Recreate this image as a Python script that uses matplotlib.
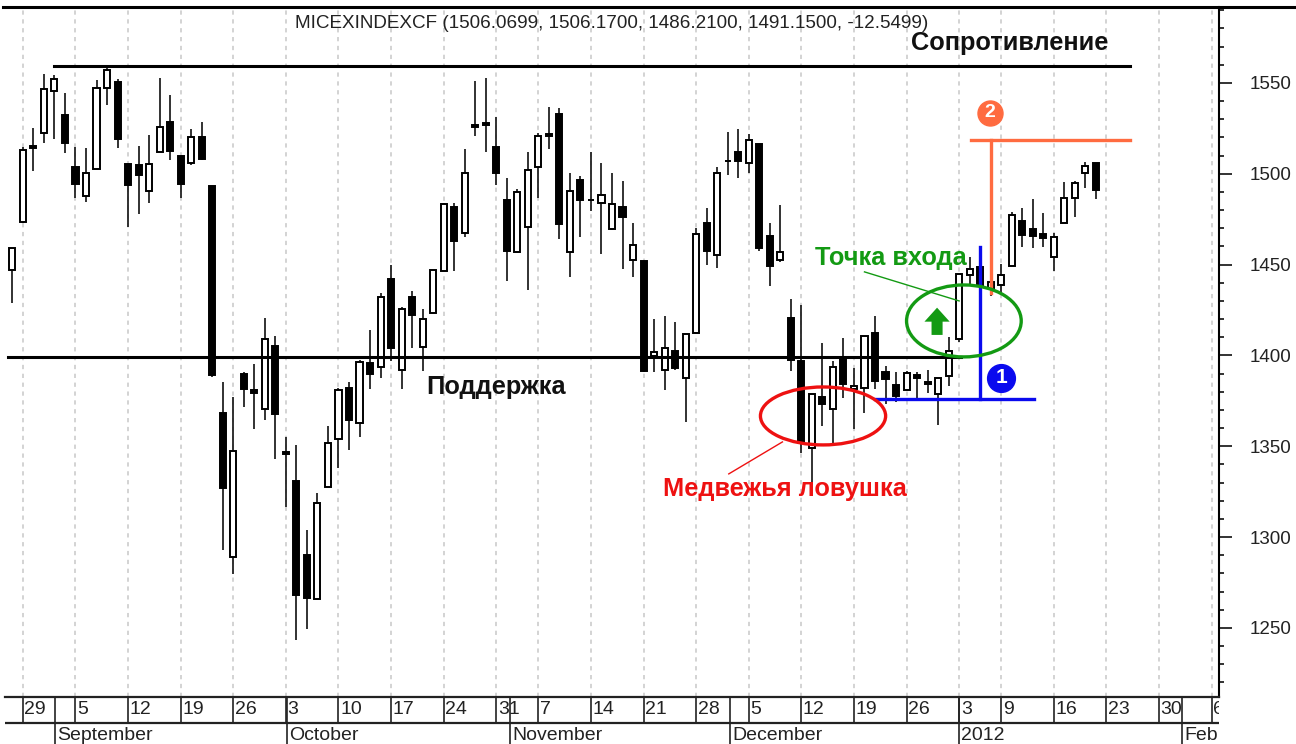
import matplotlib
matplotlib.use("Agg")
import matplotlib.pyplot as plt
from matplotlib.lines import Line2D
from matplotlib.patches import Ellipse, FancyArrow, Rectangle

plt.rcParams['font.family'] = ['Liberation Sans', 'DejaVu Sans']

# daily candles, one row per trading day: open, high, low, close
opens = [1447, 1473.5, 1515.3, 1522.5, 1545.6, 1532.4, 1503.8, 1487.8, 1502.7, 1547.3,
         1550.6, 1505.4, 1504.9, 1490.6, 1512, 1528.5, 1509.8, 1506, 1520.3, 1493.3,
         1368.3, 1289.1, 1389.8, 1381, 1370.5, 1405.2, 1346.9, 1330.9, 1290.2, 1265.9,
         1327.6, 1354, 1382.1, 1362.8, 1395.9, 1393.7, 1442.1, 1392, 1432.2, 1404.7,
         1423.4, 1446.5, 1481.7, 1467.4, 1526.9, 1528, 1514.8, 1485.6, 1457, 1470.7,
         1503.8, 1522, 1532.9, 1457, 1496.6, 1485.6, 1483.9, 1469.6, 1481.7, 1452.6,
         1452, 1399.7, 1392, 1402.5, 1387.6, 1412.4, 1472.9, 1455.3, 1507.1, 1512,
         1506, 1516.4, 1465.8, 1452.6, 1420.6, 1397, 1349, 1377.1, 1370.5, 1398.6,
         1381.6, 1382.1, 1412.4, 1390.9, 1383.8, 1381, 1389.3, 1385.4, 1378.8, 1388.7,
         1409, 1444.3, 1448.7, 1437.2, 1438.8, 1449.3, 1474, 1469.6, 1466.9, 1454.2,
         1472.9, 1486.7, 1500.5, 1506.07]
highs = [1459, 1515, 1525.2, 1555, 1554.4, 1544.5, 1514.8, 1514.2, 1551.7, 1558.3,
         1552.2, 1505.4, 1515.3, 1521.4, 1552.8, 1543.4, 1509.8, 1524.7, 1528.5, 1493.3,
         1385.4, 1377.1, 1390.9, 1395.3, 1420.6, 1410.7, 1355.1, 1350.7, 1303.9, 1324.3,
         1361.2, 1382.1, 1385.4, 1397.5, 1414, 1434.4, 1449.8, 1426.7, 1435.5, 1425.6,
         1447.1, 1483.9, 1483.9, 1513.7, 1551.1, 1552.8, 1531.3, 1497.7, 1491.7, 1512,
         1522.5, 1536.8, 1536.2, 1500.5, 1498.8, 1512, 1506, 1500.5, 1496, 1472.9,
         1452, 1420.1, 1421.7, 1418.4, 1411.8, 1470.2, 1481.2, 1503.8, 1523, 1524.7,
         1521.9, 1516.4, 1472.9, 1482.8, 1431.1, 1427.8, 1378.8, 1406.9, 1397, 1409.6,
         1393.1, 1410.7, 1421.7, 1394.2, 1390.9, 1391.5, 1390.9, 1392, 1387.6, 1410.2,
         1444.9, 1454.2, 1448.7, 1440.5, 1450.4, 1479, 1481.2, 1486.1, 1478.4, 1467.4,
         1495.5, 1496, 1506.5, 1506.17]
lows = [1429, 1473, 1501.6, 1517, 1519.2, 1511.5, 1486.7, 1484.5, 1502.7, 1537.9,
        1514.2, 1470.7, 1477.9, 1483.9, 1512, 1507.6, 1486.7, 1504.9, 1507.6, 1388.2,
        1292.9, 1279.7, 1371.6, 1359.5, 1364.5, 1343, 1316.6, 1243.4, 1249.4, 1265.9,
        1327.6, 1338, 1347.9, 1355.1, 1381.6, 1387.6, 1397, 1381.6, 1404.1, 1391.5,
        1423.4, 1446.5, 1446.5, 1465.2, 1520.8, 1512, 1493.9, 1441, 1457, 1436,
        1486.7, 1513.7, 1464.1, 1443.2, 1465.2, 1479.5, 1455.9, 1469, 1447.6, 1443.2,
        1390.9, 1390.9, 1381, 1392, 1363.4, 1412.4, 1449.8, 1448.2, 1499.4, 1497.7,
        1500.5, 1457.5, 1438.3, 1451.5, 1391.5, 1346.3, 1324.3, 1361.2, 1351.8, 1376.6,
        1359.5, 1368.3, 1381.6, 1373.3, 1374.4, 1381, 1376.6, 1379.4, 1361.7, 1383.2,
        1407.4, 1438.3, 1438.3, 1432.7, 1434.4, 1449.3, 1459.7, 1459.2, 1459.7, 1446.5,
        1472.9, 1476.2, 1492.2, 1486.21]
closes = [1459, 1513, 1514.2, 1546.7, 1552.2, 1517, 1494.4, 1500.5, 1547.3, 1557.2,
          1519.2, 1493.9, 1499.4, 1505.4, 1525.8, 1512.6, 1494.4, 1520.3, 1508.2, 1389.3,
          1327, 1347.4, 1381.6, 1379.4, 1409, 1367.8, 1345.8, 1268.1, 1266.5, 1318.8,
          1351.8, 1381, 1364.5, 1396.4, 1389.8, 1432.2, 1404.1, 1425.6, 1422.3, 1420.1,
          1447.1, 1483.4, 1463, 1500.5, 1525.8, 1526.9, 1500.5, 1457.5, 1490, 1502.1,
          1520.8, 1520.8, 1472.4, 1490.6, 1485.6, 1485.6, 1488.4, 1483.4, 1476.2, 1460.8,
          1391.5, 1401.9, 1404.1, 1393.1, 1411.8, 1466.9, 1457.5, 1500.5, 1507.1, 1507.1,
          1518.6, 1459.2, 1449.3, 1457, 1397.5, 1351.8, 1378.8, 1373.3, 1393.7, 1384.3,
          1383.2, 1410.7, 1385.9, 1387.1, 1377.7, 1390.4, 1387.6, 1384.3, 1387.6, 1402.5,
          1444.9, 1447.6, 1438.3, 1440.5, 1444.3, 1477.3, 1466.3, 1465.8, 1464.7, 1465.2,
          1486.7, 1494.9, 1504.3, 1491.15]

# date strip
day_pos = [1, 6, 11, 16, 21, 26, 31, 36, 41, 46, 50, 55, 60, 65, 70, 75, 80, 85, 90, 94, 99, 104, 109, 114]
day_labels = ['29', '5', '12', '19', '26', '3', '10', '17', '24', '31', '7', '14', '21', '28',
              '5', '12', '19', '26', '3', '9', '16', '23', '30', '6']
month_pos = [4.05, 26.15, 47.3, 68.2, 90, 111.2]
month_labels = ['September', 'October', 'November', 'December', '2012', 'Feb']
price_ticks = [1250, 1300, 1350, 1400, 1450, 1500, 1550]
price_minor = [1220, 1230, 1240, 1260, 1270, 1280, 1290, 1310, 1320, 1330, 1340, 1360, 1370, 1380, 1390,
               1410, 1420, 1430, 1440, 1460, 1470, 1480, 1490, 1510, 1520, 1530, 1540, 1560, 1570, 1580, 1590]

W, H = 1296.0, 744.0
x_lim = (-0.7, 114.7)
y_lim = (1212.0, 1591.8)

fig = plt.figure(figsize=(12.96, 7.44), dpi=100)
ax = fig.add_axes([5/W, 1-697/H, 1214/W, 690/H])
strip = fig.add_axes([5/W, 0, 1214/W, 47/H])

ax.set_xlim(x_lim)
ax.set_ylim(y_lim)
ax.set_xticks([])
ax.yaxis.tick_right()
ax.set_yticks(price_ticks)
ax.set_yticks(price_minor, minor=True)
ax.tick_params(axis='y', which='major', length=9.4, width=1.3, pad=13, labelsize=13.5,
               color='#222222', labelcolor='#222222')
ax.tick_params(axis='y', which='minor', length=3.8, width=1.3, color='#222222')
for s in ['left', 'bottom', 'top']:
    ax.spines[s].set_visible(False)
ax.spines['right'].set_linewidth(1.5)

# heavy rule across the top of the picture
fig.add_artist(Line2D([3/W, 1], [1-6.5/H, 1-6.5/H], color='black', lw=2.2))

# dotted grid
for d in day_pos:
    ax.axvline(d, color='#c8c8c8', lw=1.1, ls=(0, (2.8, 3)), zorder=1)

# candles
w = 0.29
for i in range(len(opens)):
    top = max(opens[i], closes[i])
    bot = min(opens[i], closes[i])
    down = closes[i] < opens[i]
    ax.plot([i, i], [lows[i], highs[i]], color='#222222', lw=1.3, zorder=2, solid_capstyle='butt')
    ax.add_patch(Rectangle((i-w, bot), 2*w, top-bot,
                           facecolor='black' if down else 'white',
                           edgecolor='black', lw=1.4, zorder=3))

# support / resistance
ax.plot([4, 106.2], [1559.4, 1559.4], color='black', lw=2.2, zorder=4)
ax.plot([-0.4, 90.2], [1399.2, 1399.2], color='black', lw=2.2, zorder=4)

# blue level and mark 1
blue = '#0a0aee'
ax.plot([82, 97.1], [1376, 1376], color=blue, lw=2.4, zorder=5)
ax.plot([92, 92], [1376, 1459.7], color=blue, lw=2.4, zorder=5)
ax.plot([94], [1387.6], 'o', color=blue, ms=20, zorder=5)
ax.text(94, 1387.6, '1', color='white', fontsize=15, fontweight='bold', ha='center', va='center', zorder=6)

# orange target and mark 2
orange = '#ff6b40'
ax.plot([91.1, 106.2], [1518.6, 1518.6], color=orange, lw=2.4, zorder=5)
ax.plot([93, 93], [1518.6, 1434.4], color=orange, lw=2.4, zorder=5)
ax.plot([92.9], [1533.5], 'o', color=orange, ms=18, zorder=5)
ax.text(92.9, 1533.5, '2', color='white', fontsize=14, fontweight='bold', ha='center', va='center', zorder=6)

# ellipses, arrow and pointers
green = '#139a13'
red = '#ee1111'
ax.add_patch(Ellipse((90.45, 1419), 10.9, 39.6, fill=False, edgecolor=green, lw=2.4, zorder=5))
ax.add_patch(Ellipse((77.06, 1366.7), 11.9, 31.9, fill=False, edgecolor=red, lw=2.4, zorder=5))
ax.add_patch(FancyArrow(87.9, 1411.3, 0, 15, width=1.05, head_width=2.4, head_length=7.7,
                        length_includes_head=True, color=green, lw=0, zorder=5))
ax.plot([81, 90], [1446, 1430], color=green, lw=1, zorder=5)
ax.plot([68.1, 73.2], [1334.8, 1352.4], color=red, lw=1, zorder=5)

# labels
ax.text(0.4996, 0.9765, 'MICEXINDEXCF (1506.0699, 1506.1700, 1486.2100, 1491.1500, -12.5499)',
        transform=ax.transAxes, ha='center', va='center', fontsize=13.6, color='#222222')
ax.text(94.8, 1572, 'Сопротивление', ha='center', va='center', fontsize=18.3, fontweight='bold', color='#111111')
ax.text(46, 1382.5, 'Поддержка', ha='center', va='center', fontsize=18.3, fontweight='bold', color='#111111')
ax.text(73.4, 1326.5, 'Медвежья ловушка', ha='center', va='center', fontsize=18.3, fontweight='bold', color=red)
ax.text(83.5, 1453.5, 'Точка входа', ha='center', va='center', fontsize=18.3, fontweight='bold', color=green)

# date strip below the chart
strip.set_xlim(x_lim)
strip.set_ylim(0, 47)
strip.axis('off')
strip.plot(x_lim, [47, 47], color='#222222', lw=1.6, clip_on=False)
strip.plot(x_lim, [21, 21], color='#222222', lw=1.6)
for d, lab in zip(day_pos, day_labels):
    strip.plot([d, d], [21, 47], color='#222222', lw=1.2)
    strip.text(d+0.15, 34, lab, ha='left', va='center', fontsize=14, color='#222222', clip_on=True)
for m, lab in zip(month_pos, month_labels):
    strip.plot([m, m], [0, 47], color='#222222', lw=1.2, zorder=4)
    strip.text(m+0.2, 9, lab, ha='left', va='center', fontsize=14, color='#222222', clip_on=True)

fig.savefig('out.png', dpi=100)
